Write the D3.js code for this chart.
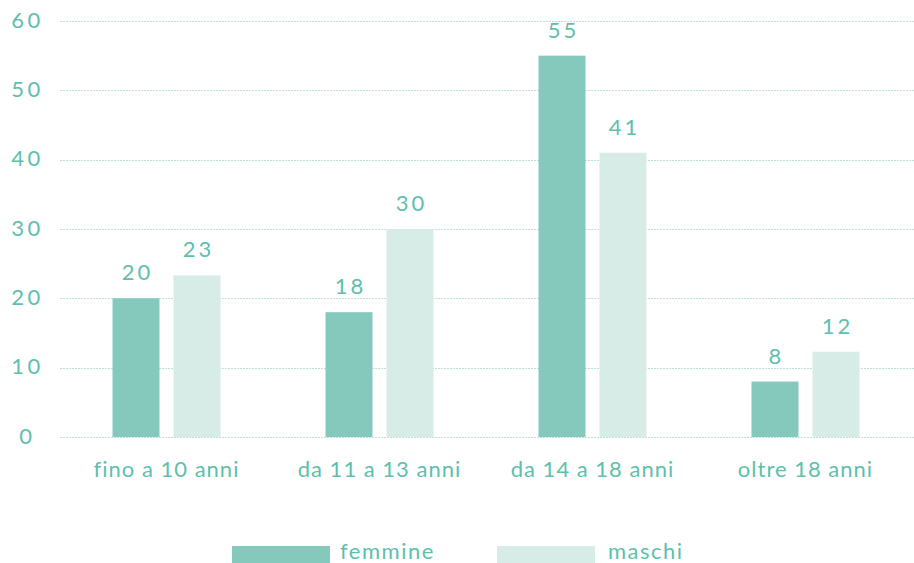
<!DOCTYPE html>
<html>
<head>
<meta charset="utf-8">
<script src="https://cdn.jsdelivr.net/npm/d3@7"></script>
<style>
  body { margin: 0; background: #fff; }
  text { font-family: Lato, "Open Sans", sans-serif; fill: #5ebfac; }
</style>
</head>
<body>
<svg id="chart"></svg>
<script>
(function(){

    var categories = ["fino a 10 anni", "da 11 a 13 anni", "da 14 a 18 anni", "oltre 18 anni"];
    var series = ["femmine", "maschi"];
    var femmine = [20, 18, 55, 8];
    var maschi = [23.3, 30, 41, 12.3];
    var yTicks = [0, 10, 20, 30, 40, 50, 60];

    var colors = {femmine: "#84c9bc", maschi: "#d7ece6"};

    var width = 914, height = 563;
    var margin = {top: 21, right: 2, bottom: 126, left: 60};

    let svg = d3.select("svg#chart")
        .attr("width", width)
        .attr("height", height);

    let data = categories.map((c, i) => ({cat: c, femmine: femmine[i], maschi: maschi[i]}));

    let yScale = d3.scaleLinear()
        .domain([0, 60])
        .range([height - margin.bottom, margin.top]);

    let x0 = d3.scaleBand()
        .domain(categories)
        .range([margin.left, width - margin.right])
        .padding(0);

    let x1 = d3.scaleBand()
        .domain(series)
        .range([52.5, 160.5])
        .paddingInner(0.23);

    // gridlines
    svg.append("g")
        .selectAll("line")
        .data(yTicks)
        .enter()
        .append("line")
        .attr("x1", margin.left)
        .attr("x2", width)
        .attr("y1", d => Math.round(yScale(d)) + 0.5)
        .attr("y2", d => Math.round(yScale(d)) + 0.5)
        .style("stroke", "#bde0db")
        .style("stroke-width", 1)
        .style("stroke-dasharray", "2,1");

    // y labels
    svg.append("g")
        .selectAll("text")
        .data(yTicks)
        .enter()
        .append("text")
        .attr("x", 27.5)
        .attr("y", d => yScale(d))
        .attr("dy", "0.3em")
        .attr("text-anchor", "middle")
        .style("font-size", "22px")
        .style("letter-spacing", "3.5px")
        .text(d => d);

    // bars
    let groups = svg.append("g")
        .selectAll("g")
        .data(data)
        .enter()
        .append("g")
        .attr("transform", d => "translate(" + x0(d.cat) + ",0)");

    groups.selectAll("rect")
        .data(d => series.map(s => ({key: s, value: d[s]})))
        .enter()
        .append("rect")
        .attr("x", d => x1(d.key))
        .attr("width", x1.bandwidth())
        .attr("y", d => yScale(d.value))
        .attr("height", d => yScale(0) - yScale(d.value))
        .style("fill", d => colors[d.key]);

    groups.selectAll("text.val")
        .data(d => series.map(s => ({key: s, value: d[s]})))
        .enter()
        .append("text")
        .attr("class", "val")
        .attr("x", d => x1(d.key) + x1.bandwidth() / 2 + 1.5)
        .attr("y", d => yScale(d.value) - 18)
        .attr("text-anchor", "middle")
        .style("font-size", "22px")
        .style("letter-spacing", "3px")
        .text(d => Math.round(d.value));

    // category labels
    svg.append("g")
        .selectAll("text")
        .data(categories)
        .enter()
        .append("text")
        .attr("x", d => x0(d) + x0.bandwidth() / 2)
        .attr("y", 477)
        .attr("text-anchor", "middle")
        .style("font-size", "22px")
        .style("letter-spacing", "1px")
        .text(d => d);

    // legend
    var legendX = [232, 497];
    let legend = svg.append("g")
        .selectAll("g")
        .data(series)
        .enter()
        .append("g")
        .attr("transform", (d, i) => "translate(" + legendX[i] + ",546)");

    legend.append("rect")
        .attr("width", 98)
        .attr("height", 17)
        .style("fill", d => colors[d]);

    legend.append("text")
        .attr("x", d => d == "femmine" ? 108 : 111)
        .attr("y", 13)
        .style("font-size", "22px")
        .style("letter-spacing", "1.5px")
        .text(d => d);

})();
</script>
</body>
</html>
